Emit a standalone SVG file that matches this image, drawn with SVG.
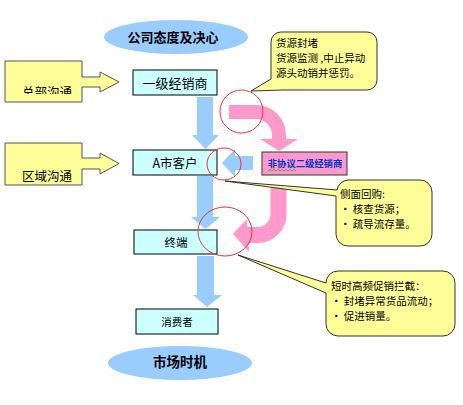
<svg xmlns="http://www.w3.org/2000/svg" width="463" height="405" viewBox="0 0 463 405">
<defs>
<style>
text{font-family:"Noto Sans CJK SC","Noto Sans",sans-serif;fill:#000}
.box{fill:#CCFFFF;stroke:#000;stroke-width:1}
.yel{fill:#FFFF99;stroke:#555;stroke-width:1}
.call{fill:#FFFF99;stroke:#333;stroke-width:1}
.ell{fill:#99CCFF}
.blue{fill:#99CCFF}
.pinkband{fill:none;stroke:#FF99CC}
.pink{fill:#FF99CC}
.ring{fill:none;stroke:#EE3333;stroke-width:1}
.c{text-anchor:middle;dominant-baseline:central}
.ct{font-size:10.5px}
</style>
<clipPath id="clipTop"><rect x="5" y="61" width="77" height="33"/></clipPath>
</defs>
<rect width="463" height="405" fill="#fff"/>

<g id="connectors">
  <polygon class="blue" points="197,97 213,97 213,135 219,135 205.5,149 192,135 197,135"/>
  <polygon class="blue" points="197,176 213,176 213,217 220,217 205.5,229 191,217 197,217"/>
  <polygon class="blue" points="197,256 214,256 214,295 222,295 207,307 193,295 197,295"/>
  <polygon class="blue" points="222,163 235,149 235,156 253,156 253,170 235,170 235,177"/>
  <path class="pinkband" stroke-width="14" d="M229,112 H256 A23,23 0 0 1 279,135 V140"/>
  <polygon class="pink" points="260,139 298,139 279,151"/>
  <path class="pinkband" stroke-width="16" d="M278.5,188 V214 A21,21 0 0 1 257.5,235 H246"/>
  <polygon class="pink" points="247,219 233,234 249,252"/>
</g>

<g id="n-top">
  <ellipse class="ell" cx="176" cy="37" rx="72" ry="17"/>
  <text class="c" x="173" y="36" font-size="13" font-weight="bold">公司态度及决心</text>
</g>

<g id="n-hq">
  <path class="yel" d="M5,61 H82 V77 H100 V72 L119,82 L100,92 V87 H82 V102 H5 Z"/>
  <text x="22" y="97" font-size="12.5" clip-path="url(#clipTop)">总部沟通</text>
</g>

<g id="n-region">
  <path class="yel" d="M5,143 H82 V158 H100 V153 L119,163.5 L100,174 V169 H82 V185 H5 Z"/>
  <text class="c" x="47" y="175" font-size="12.5">区域沟通</text>
</g>

<g id="n-dist1">
  <rect class="box" x="133" y="70" width="84" height="25"/>
  <text class="c" x="175" y="82" font-size="13">一级经销商</text>
</g>

<g id="n-cityA">
  <rect class="box" x="133" y="150" width="84" height="25"/>
  <text class="c" x="175" y="162" font-size="12.5">A市客户</text>
</g>

<g id="n-terminal">
  <rect class="box" x="134" y="230" width="83" height="24"/>
  <text class="c" x="176" y="242" font-size="11.5">终端</text>
</g>

<g id="n-consumer">
  <rect class="box" x="136" y="309" width="82" height="25"/>
  <text class="c" x="177" y="321.5" font-size="10.5">消费者</text>
</g>

<g id="n-market">
  <ellipse class="ell" cx="180" cy="363" rx="72" ry="17"/>
  <text class="c" x="180" y="361" font-size="13.5" font-weight="bold">市场时机</text>
</g>

<g id="n-nonagree">
  <rect x="262" y="152" width="85" height="23" fill="#FF99CC" stroke="#333" stroke-width="1"/>
  <text class="c" x="305" y="163" font-size="9.3" font-weight="bold" style="fill:#0033CC">非协议二级经销商</text>
  <path d="M268,171 l2,-1.5 l2,1.5 l2,-1.5 l2,1.5 l2,-1.5 l2,1.5 l2,-1.5 l2,1.5 l2,-1.5 l2,1.5 l2,-1.5 l2,1.5 l2,-1.5 l2,1.5" fill="none" stroke="#33AA33" stroke-width="0.8"/>
</g>

<g id="n-rings">
  <ellipse class="ring" cx="241.5" cy="111.5" rx="21.5" ry="21.5"/>
  <ellipse class="ring" cx="224" cy="164" rx="17" ry="16"/>
  <ellipse class="ring" cx="225" cy="231.5" rx="27" ry="24.5"/>
</g>

<g id="n-call1">
  <path class="call" d="M281,32 H367 A10,10 0 0 1 377,42 V80 A10,10 0 0 1 367,90 H283 L251,91 L271,79 V42 A10,10 0 0 1 281,32 Z"/>
  <text class="ct" x="276" y="47">货源封堵</text>
  <text class="ct" x="276" y="62">货源监测 ,中止异动</text>
  <text class="ct" x="276" y="77">源头动销并惩罚。</text>
</g>

<g id="n-call2">
  <path class="call" d="M348,180 H420 A12,12 0 0 1 432,192 V234 A12,12 0 0 1 420,246 H348 A12,12 0 0 1 336,234 V196 L225,181 L337,190 A12,12 0 0 1 348,180 Z"/>
  <text class="ct" x="340" y="198">侧面回购:</text>
  <text class="ct" x="340" y="213">• 核查货源；</text>
  <text class="ct" x="340" y="228">• 疏导流存量。</text>
</g>

<g id="n-call3">
  <path class="call" d="M338,271 H443 A12,12 0 0 1 455,283 V324 A12,12 0 0 1 443,336 H338 A12,12 0 0 1 326,324 V293 L238,255 L326,283 A12,12 0 0 1 338,271 Z"/>
  <text class="ct" x="331" y="290">短时高频促销拦截：</text>
  <text class="ct" x="331" y="305">• 封堵异常货品流动；</text>
  <text class="ct" x="331" y="320">• 促进销量。</text>
</g>
</svg>
